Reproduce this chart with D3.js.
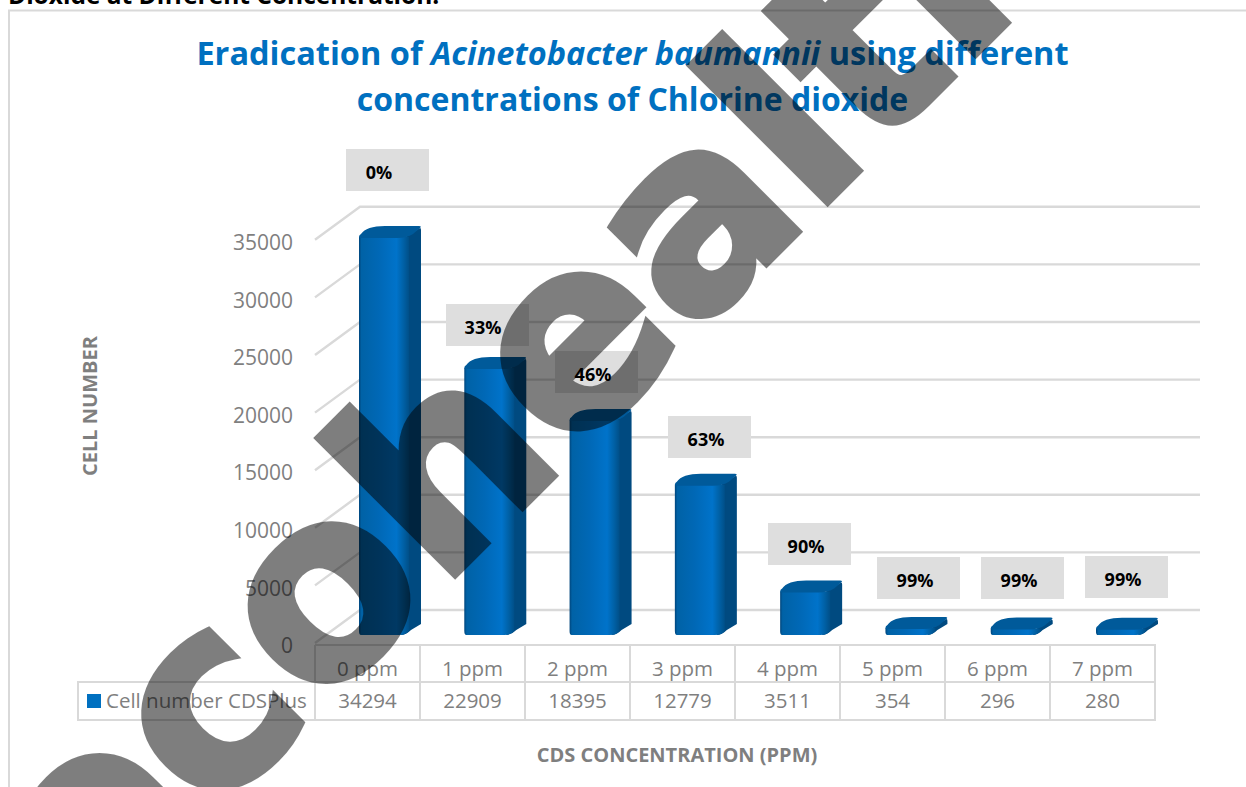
<!DOCTYPE html>
<html><head><meta charset="utf-8">
<script src="https://cdn.jsdelivr.net/npm/d3@7/dist/d3.min.js"></script>
<style>html,body{margin:0;padding:0;background:#fff;overflow:hidden}svg{display:block}text{font-family:"Open Sans",Lato,sans-serif}</style>
</head><body>
<svg id="chart" width="1246" height="787"></svg>
<script>
const categories = ["0 ppm","1 ppm","2 ppm","3 ppm","4 ppm","5 ppm","6 ppm","7 ppm"];
const cellNumbers = [34294,22909,18395,12779,3511,354,296,280];
const eradication = ["0%","33%","46%","63%","90%","99%","99%","99%"];
const yTicks = [0,5000,10000,15000,20000,25000,30000,35000];
const seriesName = "Cell number CDSPlus";
const titleRuns = [["Eradication of ",false],["Acinetobacter baumannii",true],[" using different",false]];
const titleLine2 = "concentrations of Chlorine dioxide";
const xTitle = "CDS CONCENTRATION (PPM)";
const yTitle = "CELL NUMBER";
const clippedCaption = "Dioxide at Different Concentration.";
const watermark = "ecohealth";

// Hand-placed label boxes
const labelBoxX = [346,446,555,668,768,877,981,1085];
const labelBoxY = [149,304,351,416,523,557,557,556];
const labelTextDx = [33,37,38,38,38,38,38,38];

const svg = d3.select("#chart");
const blue = "#0070c0", grid = "#d9d9d9", grey = "#7f7f7f";

const defs = svg.append("defs");
const grad = defs.append("linearGradient").attr("id","front");
[[0,"#00457c"],[0.05,"#0062a6"],[0.4,"#0068b6"],[0.75,"#0073ca"],[0.88,"#0062a8"],[1,"#004f88"]]
 .forEach(d=>grad.append("stop").attr("offset",d[0]).attr("stop-color",d[1]));

// frame (open on the right, runs off the page)
svg.append("path").attr("d","M9,800V10.5H1246").attr("fill","none").attr("stroke",grid).attr("stroke-width",2);

// clipped caption
svg.append("text").attr("x",8).attr("y",4).attr("font-size",24.5).attr("font-weight",700).attr("fill","#000").text(clippedCaption);

// title
const t = svg.append("text").attr("x",632.5).attr("y",65).attr("text-anchor","middle")
  .attr("font-size",32.5).attr("font-weight",700).attr("fill",blue);
titleRuns.forEach(r=>t.append("tspan").attr("font-style",r[1]?"italic":"normal").text(r[0]));
svg.append("text").attr("x",632.5).attr("y",111).attr("text-anchor","middle")
  .attr("font-size",32).attr("font-weight",700).attr("fill",blue).text(titleLine2);

// scales
const x = d3.scaleBand().domain(categories).range([315,1155]);
const xBar = d3.scalePoint().domain(categories).range([359,1096]);
const perUnit = 57.6/5000;
const yFront = d3.scaleLinear().domain([0,35000]).range([643,643-35000*perUnit]);
const yBack = d3.scaleLinear().domain([0,35000]).range([610,610-35000*perUnit]);
const yBar = d3.scaleLinear().domain([0,35000]).range([632,632-35000*perUnit]);

// gridlines
const gg = svg.append("g").attr("fill","none").attr("stroke",grid).attr("stroke-width",2.4);
yTicks.forEach(v=>{
  gg.append("path").attr("d",`M${x.range()[0]},${yFront(v)}L360,${yBack(v)}L1200,${yBack(v)}`);
});

// y axis
const yAxis = d3.axisLeft(yFront).tickValues(yTicks).tickSize(0).tickPadding(0).tickFormat(d3.format("d"));
const ya = svg.append("g").attr("transform","translate(293,3)").call(yAxis);
ya.select(".domain").remove();
ya.selectAll("text").attr("font-size",21).attr("fill",grey).style("font-family","'Open Sans'");

// bars
const bw = 50, dx = 12, dy = 11;
const bars = svg.append("g").selectAll("g").data(cellNumbers).join("g");
bars.each(function(v,i){
  const g = d3.select(this);
  const x0 = xBar(categories[i]);
  const yt = yBar(v), yb = yBar(0)+3;
  const r = Math.min(4,(yb-yt)/2);
  g.append("path").attr("fill","#004a80")
    .attr("d",`M${x0+bw-4},${yt}L${x0+bw+dx-1},${yt-dy+2}Q${x0+bw+dx},${yt-dy+2} ${x0+bw+dx},${yt-dy+4}L${x0+bw+dx},${yb-dy}L${x0+bw+2},${yb-5}Q${x0+bw-3},${yb} ${x0+bw-8},${yb}Z`);
  g.append("path").attr("fill","url(#front)")
    .attr("d",`M${x0},${yt}L${x0+bw},${yt}L${x0+bw},${yb-4}Q${x0+bw-3},${yb} ${x0+bw-10},${yb}L${x0+2},${yb}Q${x0},${yb} ${x0},${yb-r}Z`);
  g.append("path").attr("fill","#005a9a")
    .attr("d",`M${x0},${yt}Q${x0},${yt-2} ${x0+2},${yt-3}Q${x0+dx*0.6},${yt-dy} ${x0+dx+14},${yt-dy}L${x0+bw+dx-2},${yt-dy}Q${x0+bw+dx+1},${yt-dy} ${x0+bw+dx-1},${yt-dy+2}L${x0+bw+4},${yt-3}Q${x0+bw-2},${yt+1} ${x0+bw-12},${yt+1}L${x0+2},${yt+1}Q${x0},${yt+1} ${x0},${yt}Z`);
});

// data labels
const labs = svg.append("g").selectAll("g").data(eradication).join("g");
labs.append("rect").attr("x",(d,i)=>labelBoxX[i]).attr("y",(d,i)=>labelBoxY[i]).attr("width",83).attr("height",42).attr("fill","#dedede");
labs.append("text").attr("x",(d,i)=>labelBoxX[i]+labelTextDx[i]).attr("y",(d,i)=>labelBoxY[i]+30)
  .attr("text-anchor","middle").attr("font-size",18).attr("font-weight",700).attr("fill","#000").text(d=>d);

// data table
const tg = svg.append("g").attr("fill","none").attr("stroke",grid).attr("stroke-width",2);
const [tx0,tx1] = x.range();
tg.append("path").attr("d",`M${tx0},645H${tx1}V720H78V682H${tx1}`);
x.domain().forEach((c,i)=>tg.append("path").attr("d",`M${x(c)},645V720`));
svg.append("g").selectAll("text").data(categories).join("text")
  .attr("x",d=>x(d)+x.bandwidth()/2).attr("y",676).attr("text-anchor","middle").attr("font-size",20.5).attr("fill",grey).text(d=>d);
svg.append("g").selectAll("text").data(cellNumbers).join("text")
  .attr("x",(d,i)=>x(categories[i])+x.bandwidth()/2).attr("y",708).attr("text-anchor","middle").attr("font-size",20.5).attr("fill",grey).text(d=>d);
svg.append("rect").attr("x",87).attr("y",694).attr("width",14).attr("height",14).attr("fill",blue);
svg.append("text").attr("x",106).attr("y",708).attr("font-size",20.5).attr("fill",grey).text(seriesName);

// axis titles
svg.append("text").attr("x",677).attr("y",762).attr("text-anchor","middle").attr("font-size",20).attr("font-weight",700).attr("fill",grey).text(xTitle);
svg.append("text").attr("transform","translate(97,406) rotate(-90)").attr("text-anchor","middle").attr("font-size",20).attr("font-weight",700).attr("fill",grey).text(yTitle);

// watermark
svg.append("text").attr("transform","translate(87,943) rotate(-45)")
  .style("font-family","'DejaVu Sans'").attr("font-weight",700).attr("font-size",255)
  .attr("fill","#000").attr("stroke","#000").attr("stroke-width",7).attr("stroke-linejoin","miter").attr("opacity",0.5).text(watermark);
</script>
</body></html>
